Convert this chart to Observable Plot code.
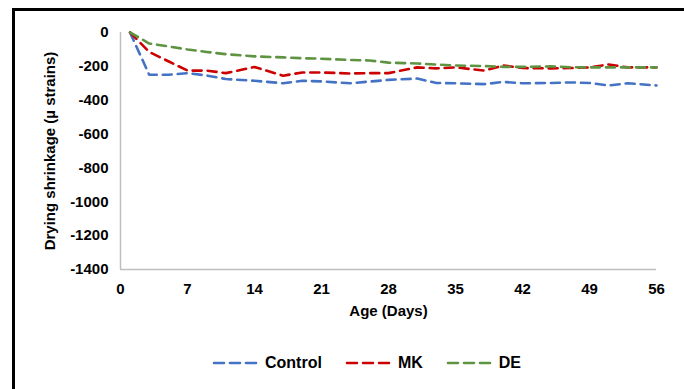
<!DOCTYPE html>
<html>
<head>
<meta charset="utf-8">
<script src="https://cdn.jsdelivr.net/npm/d3@7"></script>
<script src="https://cdn.jsdelivr.net/npm/@observablehq/plot@0.6"></script>
<style>
  html, body { margin: 0; padding: 0; background: #fff; }
  body { width: 684px; height: 389px; overflow: hidden; position: relative; font-family: "Liberation Sans", Arial, sans-serif; }
  #frame { position: absolute; left: 12px; top: 8px; width: 720px; height: 420px; border-top: 3px solid #000; border-left: 3px solid #000; box-sizing: border-box; }
  #title { position: absolute; left: 216px; top: -23px; font-size: 20px; line-height: 24px; font-weight: bold; color: #000; white-space: nowrap; }
  #chart { position: absolute; left: 0; top: 0; }
  #legend { position: absolute; left: 24px; top: 354px; width: 684px; display: flex; justify-content: center; gap: 22px; font-size: 16px; font-weight: bold; color: #000; }
  .item { display: flex; align-items: center; gap: 6px; }
</style>
</head>
<body>
<div id="frame"></div>
<div id="title">Drying shrinkage</div>
<div id="chart"></div>
<div id="legend"></div>
<script>
const days = [1, 3, 5, 7, 9, 11, 14, 17, 19, 21, 24, 26, 28, 31, 33, 35, 38, 40, 42, 45, 47, 49, 51, 53, 56];
const control = [0, -250, -250, -240, -254, -275, -285, -300, -285, -289, -300, -290, -280, -272, -298, -300, -305, -292, -300, -298, -295, -298, -313, -300, -313];
const mk = [0, -115, -170, -225, -225, -240, -204, -255, -236, -236, -242, -240, -240, -206, -212, -206, -225, -195, -210, -212, -210, -206, -189, -206, -206];
const de = [0, -65, -82, -100, -115, -128, -141, -147, -152, -155, -162, -165, -178, -183, -189, -195, -198, -203, -203, -200, -205, -206, -206, -206, -206];
const seriesNames = ["Control", "MK", "DE"];
const seriesColors = ["#4472C4", "#CC0000", "#5E9441"];
const xTicks = [0, 7, 14, 21, 28, 35, 42, 49, 56];
const yTicks = [0, -200, -400, -600, -800, -1000, -1200, -1400];

const rows = [];
[control, mk, de].forEach((vals, i) => {
  days.forEach((d, j) => rows.push({series: seriesNames[i], day: d, value: vals[j]}));
});

const fmt = d => String(d);

const plot = Plot.plot({
  width: 684,
  height: 340,
  marginLeft: 120,
  marginRight: 28,
  marginTop: 32,
  marginBottom: 71,
  style: {fontFamily: "Liberation Sans, Arial, sans-serif", fontSize: "15px", fontWeight: "bold", color: "#000", background: "transparent"},
  x: {domain: [0, 56], label: null},
  y: {domain: [-1400, 0], label: null},
  color: {domain: seriesNames, range: seriesColors},
  marks: [
    Plot.ruleX([0], {stroke: "#bfbfbf", strokeWidth: 1.5}),
    Plot.ruleY([-1400], {stroke: "#bfbfbf", strokeWidth: 1.5}),
    Plot.axisX({ticks: xTicks, tickFormat: fmt, tickSize: 0, tickPadding: 14, label: null, fontWeight: "bold", fontSize: 15}),
    Plot.axisY({ticks: yTicks, tickFormat: fmt, tickSize: 0, tickPadding: 12, label: null, fontWeight: "bold", fontSize: 15}),
    Plot.lineY(rows, {x: "day", y: "value", z: "series", stroke: "series", strokeWidth: 2.6, strokeDasharray: "9,6", strokeLinecap: "round"}),
    Plot.text(["Age (Days)"], {frameAnchor: "bottom", dy: 46, fontSize: 15, fontWeight: "bold", fill: "#000"}),
    Plot.text(["Drying shrinkage (\u00b5 strains)"], {frameAnchor: "left", textAnchor: "middle", dx: -70, rotate: -90, fontSize: 15, fontWeight: "bold", fill: "#000"})
  ]
});
document.getElementById("chart").appendChild(plot);

const legend = document.getElementById("legend");
seriesNames.forEach((name, i) => {
  const item = document.createElement("div");
  item.className = "item";
  item.innerHTML = `<svg width="48" height="6"><line x1="3" y1="3" x2="45" y2="3" stroke="${seriesColors[i]}" stroke-width="2.6" stroke-dasharray="10,6" stroke-linecap="round"/></svg><span>${name}</span>`;
  legend.appendChild(item);
});
</script>
</body>
</html>
